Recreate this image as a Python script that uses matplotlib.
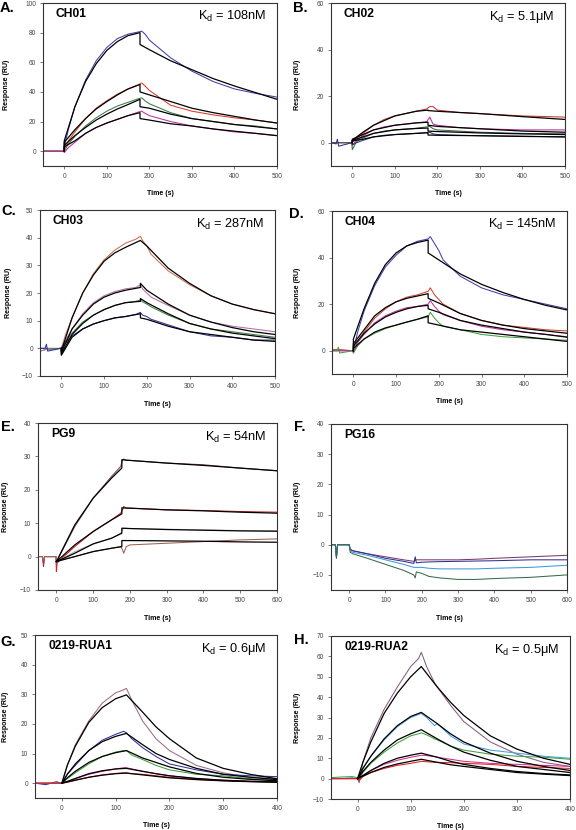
import numpy as np
import matplotlib
matplotlib.use('Agg')
import matplotlib.pyplot as plt

plt.rcParams['font.family'] = ['Liberation Sans', 'DejaVu Sans']
plt.rcParams['mathtext.fontset'] = 'custom'
plt.rcParams['mathtext.rm'] = 'Liberation Sans'

# ---- A: CH01 ----
A_t = [-50, -1, 0, 10, 25, 50, 75, 100, 125, 150, 175, 182, 190, 200, 250, 300, 350, 400, 450, 500]
A_blue = [0, 0, 3, 15, 30, 48, 61, 70, 76, 79, 80.5, 81, 79, 75, 63, 54, 47, 42, 39, 36.5]
A_red = [0, 0, 1, 7, 13, 22, 29, 34, 38.5, 42, 45, 46, 44, 41, 31, 27, 24.5, 22.5, 21, 19]
A_green = [0, 0, 0, 5, 10, 17, 22.5, 27, 30.5, 33, 35.5, 36, 34, 32, 26, 22, 20, 18, 17, 15]
A_magenta = [0, 0, -1, 2.5, 6, 12, 16, 19, 21.5, 24, 26.5, 27, 25.5, 24, 20, 17, 15, 13, 12, 10.5]
A_ft = [0, 0, 25, 50, 75, 100, 125, 150, 178, 178, 200, 250, 300, 350, 400, 450, 500]
A_blue_fit = [0, 7, 30, 47, 59, 68, 74, 78, 80, 72, 68.5, 61, 55, 49, 44, 39.5, 35]
A_red_fit = [0, 6, 14.5, 22, 28.5, 33.5, 38, 42, 45, 40, 38, 33.5, 29, 26, 23.5, 21, 19]
A_green_fit = [0, 4, 10.5, 16, 21, 25, 28.5, 31.5, 35, 30, 29, 25, 22, 20, 18, 16.5, 15]
A_mag_fit = [0, 3, 7, 12, 16, 19, 21.5, 24, 26, 22, 21, 18.5, 17, 15, 13.5, 12, 10.5]

# ---- B: CH02 ----
B_t = [-50, -38, -35, -32, -1, 0, 10, 25, 50, 75, 100, 150, 175, 182, 190, 200, 250, 300, 400, 500]
B_red = [0, 0, 0, 0, 0, 0, 2, 4, 7.5, 10, 11.5, 13.5, 14.5, 15.5, 15.5, 14, 13, 12.5, 11.5, 11]
B_magenta = [0, 0, 0, 0, 0, -1, 1, 3, 5.5, 6.8, 7.5, 8.5, 9, 11, 8, 7.5, 6.5, 6, 5.5, 5.5]
B_green = [0, 0, 0, 0, 0, -3, 0.5, 2, 4, 5, 5.5, 6.2, 6.8, 7, 6, 5.5, 5, 4.5, 4, 3.8]
B_blue = [0, -0.5, 1.5, -1.5, 0, -1, 0, 1, 2.5, 3.2, 3.5, 4, 4.3, 4.5, 3.8, 3.5, 3.2, 3, 2.8, 2.5]
B_ft = [0, 0, 25, 50, 100, 150, 178, 178, 200, 300, 400, 500]
B_red_fit = [0, 1, 4.5, 7.5, 11.5, 13.5, 14, 13.8, 13.5, 12.5, 11.2, 10]
B_mag_fit = [0, 1.5, 3.5, 5.5, 7.5, 8.5, 8.8, 7.5, 7, 6, 5, 4.5]
B_green_fit = [0, 1, 2.5, 4, 5.5, 6.1, 6.3, 5, 4.8, 4.2, 3.8, 3.5]
B_blue_fit = [0, 0.8, 1.5, 2.5, 3.5, 4, 4.3, 3.3, 3.2, 3, 2.7, 2.5]

# ---- C: CH03 ----
C_t = [-50, -38, -35, -32, -1, 0, 10, 25, 50, 75, 100, 125, 150, 175, 185, 190, 200, 210, 250, 300, 350, 400, 450, 500]
C_orange = [-1, -0.5, 0, -0.5, 0, 0, 5, 11, 20, 27, 32, 35.5, 38, 39.5, 40.5, 39, 37, 34, 28, 23, 19, 16, 14, 12.5]
C_pink = [-1, -0.5, 0, -0.5, 0, 0, 3, 7, 12.5, 16.5, 19, 20.5, 21.5, 22, 23, 21.5, 20, 18.5, 15.5, 12, 9.5, 8, 7, 6]
C_green = [0, 0, 0, 0, 0, 0, 2.5, 5.5, 9.5, 12, 14, 15.5, 16.5, 17, 17.5, 16.8, 16, 15, 12, 9, 7, 6, 5, 4]
C_blue = [0, 0, 1.5, -1, 0, 0, 2, 4.5, 7, 8.8, 10, 11, 11.5, 12.3, 13, 12, 11.5, 10.5, 8.5, 6, 4.5, 4, 3, 3]
C_ft = [0, 0, 25, 50, 75, 100, 125, 150, 185, 185, 200, 250, 300, 350, 400, 450, 500]
C_orange_fit = [0, -1, 11, 20, 26.5, 31.5, 34.5, 36.5, 39, 39, 37, 29, 23.5, 19, 16, 14, 12.5]
C_pink_fit = [0, -1.5, 7, 12, 16, 18.5, 20, 21, 22, 23.5, 21, 16, 12, 9.5, 7.5, 6, 5]
C_green_fit = [0, -2, 5, 9, 12, 14, 15.5, 16.5, 17, 18, 16.5, 12.5, 9, 7, 5.5, 4.5, 3.5]
C_blue_fit = [0, -2.5, 4, 7, 8.8, 10, 11, 11.5, 12.5, 11, 10.5, 8, 6, 5, 4, 3, 2.5]

# ---- D: CH04 ----
D_t = [-50, -38, -35, -32, -1, 0, 10, 25, 50, 75, 100, 125, 150, 175, 180, 190, 200, 210, 250, 300, 350, 400, 450, 500]
D_blue = [0, 0, 0, 0, 0, 0, 8, 17, 28, 36, 41, 45, 47, 48, 49, 46, 43, 39, 32, 27, 24, 22, 20, 18]
D_red = [0.5, 0.5, 0.5, 0.5, 0, -1, 4, 8, 14, 18, 21, 23, 24, 25.5, 27, 24, 22, 20, 16, 13, 11, 10, 9, 8.5]
D_magenta = [0, 0, 0, 0, 0, -0.5, 3.5, 7, 12, 15, 17, 18.5, 19, 20, 21.5, 19, 17, 15.5, 13, 10.5, 9, 8, 7, 6]
D_green = [0, 0, 1.5, -1, 0, -1, 2, 5, 7.5, 9.5, 11, 12.3, 13.5, 14.5, 16.5, 14, 12, 10.5, 9, 7, 6, 5.5, 5, 4.5]
D_ft = [0, 0, 25, 50, 75, 100, 125, 150, 175, 175, 200, 250, 300, 350, 400, 450, 500]
D_blue_fit = [0, 5, 18, 29, 37, 42, 45, 46.5, 47.5, 42, 39, 33, 28.5, 25, 22, 19.5, 17.5]
D_red_fit = [0, 3, 9, 15, 18.5, 21, 22.5, 23.5, 24.5, 22.5, 20.5, 16, 13, 11, 9.5, 8.5, 7.5]
D_mag_fit = [0, 2, 7.5, 11.5, 14.5, 16.5, 18, 19, 19.5, 18, 16.5, 13, 11, 9.5, 8, 7, 5.8]
D_green_fit = [0, 1, 5, 8, 9.8, 11, 12.3, 13.5, 15, 12, 11, 9, 8, 7, 6, 5, 4]

# ---- E: PG9 ----
E_t = [-50, -38, -35, -32, -1, 0, 2, 10, 50, 100, 150, 175, 180, 183, 190, 200, 300, 400, 500, 600]
E_top = [0, 0, -3, 0, 0, -2, -1.5, 0.5, 9, 17.5, 24, 27, 29, 29.2, 28.8, 28.8, 28, 27.5, 26.5, 25.7]
E_red = [0, 0, -2, 0, 0, -4.5, -2, -1, 3, 7.5, 11, 13, 14, 15, 14.5, 14.5, 14, 13.8, 13.5, 13.3]
E_gray = [0, 0, -1, 0, 0, -2, -1.5, -1, 1.5, 3.8, 5.5, 7, 8, 8.5, 8.5, 8.4, 8.2, 8, 7.8, 7.7]
E_brown = [0, 0, -1, 0, 0, -2, -1.5, -1, 0, 1.5, 2.5, 3, 2, 1, 3, 3.5, 4, 4.5, 5, 5.3]
E_ft = [0, 50, 100, 150, 178, 178, 200, 300, 400, 500, 600]
E_top_fit = [-1.5, 9.5, 17.5, 23.5, 26.5, 29, 28.8, 28, 27.3, 26.5, 25.7]
E_red_fit = [-1.5, 3.5, 7.5, 11, 12.8, 14.6, 14.5, 14, 13.7, 13.3, 13]
E_gray_fit = [-1.5, 1, 3.8, 5.5, 7, 8.5, 8.4, 8.1, 7.9, 7.7, 7.6]
E_brown_fit = [-1.5, 0, 1.5, 2.5, 3, 4.8, 4.8, 4.7, 4.6, 4.4, 4.3]

# ---- F: PG16 (no fit) ----
F_t = [-50, -38, -35, -32, -5, 0, 3, 10, 50, 100, 150, 178, 182, 185, 200, 220, 250, 300, 350, 400, 500, 600]
F_maroon = [0, 0, -4, 0, 0, 0, -1.5, -2, -3, -4, -5, -5.5, -5.2, -5, -5, -5, -5, -5, -4.8, -4.5, -4, -3.5]
F_navy = [0, 0, -4.5, 0, 0, 0, -1.5, -2, -3, -4.5, -5.5, -6.2, -4, -6, -5.8, -5.7, -5.6, -5.5, -5.4, -5.3, -5, -5]
F_light = [0, 0, -4, 0, 0, 0, -2, -2.5, -3.5, -5, -6.5, -7.5, -7.5, -7.5, -7.5, -7.8, -8, -8, -8, -7.8, -7.5, -6.8]
F_green = [0, 0, -4, 0, 0, 0, -2.5, -3, -4.5, -6.5, -8.5, -10, -11, -9, -9.5, -10.5, -11, -11.5, -11.5, -11.2, -10.8, -10]

# ---- G: 0219-RUA1 ----
G_t = [-50, -30, -10, -1, 0, 10, 25, 50, 75, 100, 115, 120, 130, 150, 175, 200, 250, 300, 350, 400]
G_mauve = [0, 0, 0, 0, 0, 6, 13, 21, 27, 30.5, 31.5, 32, 28, 21, 15, 11, 6, 3.5, 2, 1.5]
G_blue = [0, -0.5, 0.5, 0, 0, 3, 6, 11, 14.5, 16.5, 17.5, 17, 15, 12, 9, 6.5, 4.5, 3, 2.5, 2.2]
G_green = [0, 0, 0, 0, 0, 1.5, 3.5, 6.5, 9, 10.5, 11, 11, 9.5, 8, 6, 4.5, 3, 2.5, 1.5, 1]
G_magenta = [0, 0, 0, 0, 0, 0.5, 1.5, 3, 4, 4.8, 5.2, 5.2, 4.8, 4, 3.2, 2.5, 1.5, 1, 0.7, 0.5]
G_red = [0, 0, 0, 0, 0, 0.3, 1, 2, 2.8, 3.3, 3.5, 3.5, 3.2, 3, 2.5, 2, 1.3, 0.8, 0.6, 0.5]
G_ft = [0, 10, 25, 50, 75, 100, 120, 150, 175, 200, 250, 300, 350, 400]
G_mauve_fit = [0, 6, 12.5, 20.5, 25.5, 28.5, 29.8, 24, 19, 15, 8.5, 5, 3, 1.5]
G_blue_fit = [0, 3, 6.5, 11, 14, 15.8, 16.8, 13, 10, 8, 5, 3, 2, 1.2]
G_green_fit = [0, 1.8, 4, 7, 9, 10.3, 11, 8.5, 7, 5.5, 3.3, 2, 1.3, 0.8]
G_mag_fit = [0, 0.6, 1.6, 3.2, 4.2, 4.8, 5, 4, 3.2, 2.5, 1.6, 1, 0.6, 0.4]
G_red_fit = [0, 0.4, 1, 2, 2.7, 3.2, 3.4, 2.8, 2.3, 1.8, 1.2, 0.8, 0.5, 0.3]

# ---- H: 0219-RUA2 ----
H_t = [-50, -30, -10, -1, 0, 3, 10, 25, 50, 75, 100, 115, 120, 130, 145, 150, 175, 200, 250, 300, 350, 400]
H_mauve = [0, 0, 0, 0, 0, -2, 8, 20, 34, 45, 55, 59, 62, 55, 47, 45, 36, 28, 18, 12, 8, 6]
H_light = [0, 0, 0.5, 0, 0, -1, 5, 11, 19, 25.5, 30, 31.5, 32, 30, 26, 27, 21, 17, 14, 12.5, 11, 10]
H_green = [0.5, 0.8, 1, 0.5, 0, -1, 3, 7.5, 13, 17.5, 21, 22, 22.5, 21.5, 19.5, 19, 16, 14, 12, 11, 10.5, 9.5]
H_magenta = [0, 0, 0, 0, 0, -0.5, 1.5, 4, 7, 9, 10.5, 11.2, 11.5, 11.3, 10.8, 10.5, 9.5, 8.5, 7.5, 7, 6.5, 6]
H_red = [0, 0, 0, 0, 0, -1, 1, 3, 5, 6.5, 7.5, 8.2, 8.5, 8.3, 8, 8, 7.8, 7.5, 7, 6, 5.5, 5]
H_ft = [0, 10, 25, 50, 75, 100, 120, 150, 175, 200, 250, 300, 350, 400]
H_mauve_fit = [0, 8, 18, 32, 42, 50, 55, 45, 37.5, 31, 21, 14.5, 10, 7]
H_light_fit = [0, 5, 11, 19.5, 26, 30.5, 32.5, 27, 22, 18, 12.5, 8.5, 6, 4]
H_green_fit = [0, 3.5, 8, 14, 19, 22, 24, 19.5, 16, 13, 9, 6, 4.5, 3]
H_mag_fit = [0, 1.5, 4, 7.5, 10, 11.5, 12.5, 10.5, 8.5, 7, 5, 3.5, 2.5, 1.8]
H_red_fit = [0, 1.2, 3, 5.5, 7.2, 8.5, 9.5, 8, 6.8, 6, 4.5, 3, 2.2, 1.5]

W, H = 576, 830
fig = plt.figure(figsize=(W / 100, H / 100), dpi=100)


def px(l, t, r, b):
    return [l / W, 1 - b / H, (r - l) / W, (b - t) / H]


def setup(ax, rect, xlim, ylim, xticks, yticks, name, kd, letter, lpos, ylab_x):
    ax.set_xlim(*xlim)
    ax.set_ylim(*ylim)
    ax.set_xticks(xticks)
    ax.set_yticks(yticks)
    ax.tick_params(labelsize=4.7, length=2, width=0.5, colors='#444444', pad=3)
    for s in ax.spines.values():
        s.set_linewidth(0.8)
        s.set_color('#333333')
    ax.set_xlabel('Time (s)', fontsize=5, fontweight='bold')
    ax.set_ylabel('Response (RU)', fontsize=5, fontweight='bold')
    ax.xaxis.set_label_coords(0.5, -0.15)
    # put the y label at a fixed pixel column
    ax.yaxis.set_label_coords((ylab_x - rect[0]) / (rect[2] - rect[0]), 0.5)
    ax.text(0.055, 0.935, name, transform=ax.transAxes, fontsize=8.7, fontweight='bold', va='center', ha='left')
    if kd:
        ax.text(0.955, 0.915, kd, transform=ax.transAxes, fontsize=9.2, va='center', ha='right')
    fig.text(lpos[0] / W, 1 - lpos[1] / H, letter, fontsize=10.5, fontweight='bold', va='center', ha='left')


def draw(rect, t, series, ft=None, fits=()):
    ax = fig.add_axes(px(*rect))
    for y, c in series:
        ax.plot(t, y, color=c, lw=0.75)
    for y in fits:
        ax.plot(ft, y, color='black', lw=0.9)
    return ax


rA = (43, 3, 277, 166)
axA = draw(rA, A_t, [(A_blue, '#4040a8'), (A_red, '#d83a2a'), (A_green, '#3f7a45'), (A_magenta, '#c0309a')],
           A_ft, [A_blue_fit, A_red_fit, A_green_fit, A_mag_fit])
setup(axA, rA, (-50, 500), (-10, 100), range(0, 501, 100), range(0, 101, 20), 'CH01',
      r'K$_{\mathrm{d}}$ = 108nM', 'A.', (0, 8), 10)

rB = (331, 3, 565, 166)
axB = draw(rB, B_t, [(B_red, '#c83a30'), (B_magenta, '#c02a9a'), (B_green, '#3d6b40'), (B_blue, '#303080')],
           B_ft, [B_red_fit, B_mag_fit, B_green_fit, B_blue_fit])
setup(axB, rB, (-50, 500), (-10, 60), range(0, 501, 100), range(0, 61, 20), 'CH02',
      r'K$_{\mathrm{d}}$ = 5.1μM', 'B.', (293, 8), 301)

rC = (40, 210, 275, 376)
axC = draw(rC, C_t, [(C_orange, '#c87050'), (C_pink, '#b070a0'), (C_green, '#3f7f45'), (C_blue, '#3030a0')],
           C_ft, [C_orange_fit, C_pink_fit, C_green_fit, C_blue_fit])
setup(axC, rC, (-50, 500), (-10, 50), range(0, 501, 100), range(-10, 51, 10), 'CH03',
      r'K$_{\mathrm{d}}$ = 287nM', 'C.', (1, 211), 12)

rD = (332, 211, 567, 374)
axD = draw(rD, D_t, [(D_blue, '#4040b0'), (D_red, '#d04030'), (D_magenta, '#c030a0'), (D_green, '#40a040')],
           D_ft, [D_blue_fit, D_red_fit, D_mag_fit, D_green_fit])
setup(axD, rD, (-50, 500), (-10, 60), range(0, 501, 100), range(0, 61, 20), 'CH04',
      r'K$_{\mathrm{d}}$ = 145nM', 'D.', (289, 214), 301)

rE = (38, 423, 277, 590)
axE = draw(rE, E_t, [(E_top, '#7a4060'), (E_red, '#d02020'), (E_gray, '#b0b0b0'), (E_brown, '#a06050')],
           E_ft, [E_top_fit, E_red_fit, E_gray_fit, E_brown_fit])
setup(axE, rE, (-50, 600), (-10, 40), range(0, 601, 100), range(-10, 41, 10), 'PG9',
      r'K$_{\mathrm{d}}$ = 54nM', 'E.', (1, 427), 9)

rF = (331, 424, 567, 590)
axF = draw(rF, F_t, [(F_maroon, '#7a3a6a'), (F_navy, '#303090'), (F_light, '#3a9ae0'), (F_green, '#3a6a4a')])
setup(axF, rF, (-50, 600), (-15, 40), range(0, 601, 100), range(-10, 41, 10), 'PG16',
      None, 'F.', (294, 427), 301)

rG = (35, 635, 277, 798)
axG = draw(rG, G_t, [(G_mauve, '#a06a8a'), (G_blue, '#3030a0'), (G_green, '#40a040'), (G_magenta, '#d02090'), (G_red, '#d03020')],
           G_ft, [G_mauve_fit, G_blue_fit, G_green_fit, G_mag_fit, G_red_fit])
setup(axG, rG, (-50, 400), (-5, 50), range(0, 401, 100), range(0, 51, 10), '0219-RUA1',
      r'K$_{\mathrm{d}}$ = 0.6μM', 'G.', (0, 642), 9)

rH = (331, 636, 570, 799)
axH = draw(rH, H_t, [(H_mauve, '#8a5a80'), (H_light, '#40a0e0'), (H_green, '#40a040'), (H_magenta, '#d03090'), (H_red, '#e02020')],
           H_ft, [H_mauve_fit, H_light_fit, H_green_fit, H_mag_fit, H_red_fit])
setup(axH, rH, (-50, 400), (-10, 70), range(0, 401, 100), range(-10, 71, 10), '0219-RUA2',
      r'K$_{\mathrm{d}}$ = 0.5μM', 'H.', (294, 640), 301)

fig.savefig('out.png', dpi=100)
